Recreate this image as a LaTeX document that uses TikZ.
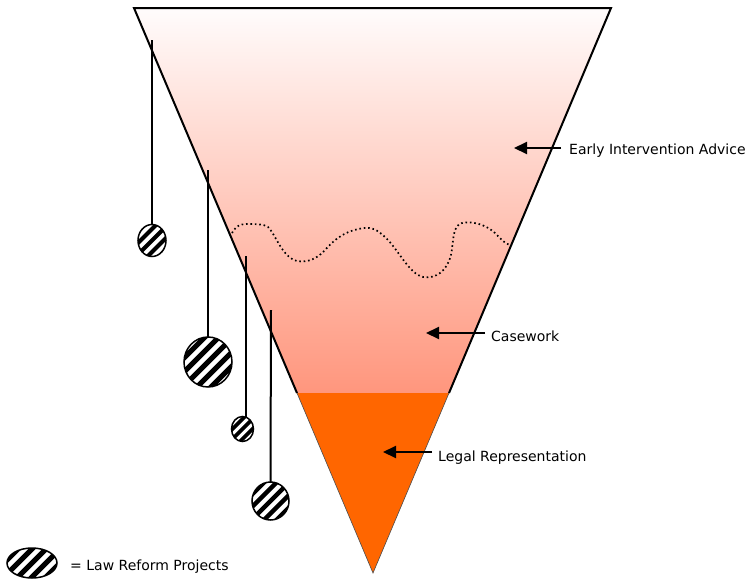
\documentclass[tikz,border=0pt]{standalone}
\usepackage{fontspec}
\setmainfont{DejaVu Sans}
\usetikzlibrary{arrows.meta}
\definecolor{funneltop}{RGB}{255,252,252}
\definecolor{funnelmid}{RGB}{255,220,213}
\definecolor{funnelbot}{RGB}{255,150,125}
\definecolor{legalorange}{RGB}{255,102,0}
\tikzset{
  edge/.style={line width=2pt, line join=miter},
  cord/.style={line width=2pt},
  lbl/.style={anchor=west, inner sep=0pt, font=\fontsize{14}{16}\selectfont},
  pointer/.style={line width=2pt, -{Triangle[length=13pt,width=12pt]}},
  bob/.style={line width=1.5pt},
}
\newcommand{\hatchedbob}[6]{% name, x, y, rx, ry, spacing
  \begin{scope}
    \clip (#2,#3) ellipse [x radius=#4, y radius=#5];
    \fill[white] (#2,#3) ellipse [x radius=#4, y radius=#5];
    \foreach \k in {-6,...,6}{
      \draw[line width={0.36*#6pt}] ({#2-40+\k*#6},{#3+40}) -- ({#2+40+\k*#6},{#3-40});
    }
  \end{scope}
  \draw[bob] (#2,#3) ellipse [x radius=#4, y radius=#5];
  \coordinate (#1) at (#2,{#3-#5});
}
\begin{document}
\begin{tikzpicture}[x=1pt,y=-1pt]
\useasboundingbox (0,0) rectangle (748,579);
% funnel corners
\coordinate (tl) at (134,8);
\coordinate (tr) at (611,8);
\coordinate (ap) at (373,573);
\coordinate (ol) at (297,393);
\coordinate (or) at (449,393);
% gradient upper part
\shade[top color=funneltop, middle color=funnelmid, bottom color=funnelbot] (tl) -- (tr) -- (or) -- (ol) -- cycle;
% orange bottom part
\fill[legalorange] (ol) -- (or) -- (ap) -- cycle;
\draw[line width=0.6pt, black!70] (or) -- (ap) -- (ol);
\draw[edge] (ol) -- (tl) -- (tr) -- (or);
% dotted boundary
\draw[line width=1.7pt, dash pattern=on 1.6pt off 2.8pt]
  (232,233) .. controls (236,226) and (240,224) .. (247,224)
  .. controls (255,224) and (264,224) .. (268,227)
  .. controls (276,235) and (282,257) .. (297,261)
  .. controls (308,263) and (318,258) .. (325,250)
  .. controls (334,240) and (345,230) .. (365,228)
  .. controls (374,227) and (380,232) .. (388,240)
  .. controls (400,253) and (410,274) .. (423,277)
  .. controls (436,279) and (447,271) .. (451,255)
  .. controls (454,240) and (452,226) .. (462,223)
  .. controls (472,221) and (485,224) .. (495,233)
  .. controls (501,239) and (505,244) .. (510,245);
% pendulums
\hatchedbob{b1}{152}{240.5}{14}{16}{11.5}
\hatchedbob{b2}{208}{362}{24}{25}{14}
\hatchedbob{b3}{242.5}{429}{11}{12.5}{10}
\hatchedbob{b4}{270.5}{501}{18.5}{19}{12.5}
\coordinate (s1) at (152,40);
\coordinate (s2) at (208,170);
\coordinate (s3) at (246,256);
\coordinate (s4) at (271,310);
\coordinate (b3top) at (246,417);
\draw[cord] (s1) -- (b1);
\draw[cord] (s2) -- (b2);
\draw[cord] (s3) -- (b3top);
\draw[cord] (s4) -- (b4);
% labels and pointers
\node[lbl] (early) at (569,151) {Early Intervention Advice};
\node[lbl] (case) at (491,336) {Casework};
\node[lbl] (legal) at (438,458) {Legal Representation};
\coordinate (ae) at (561,148);
\coordinate (pe) at (514,148);
\coordinate (ac) at (485,333);
\coordinate (pc) at (426,333);
\coordinate (al) at (432,452);
\coordinate (pl) at (383,452);
\draw[pointer] (ae) -- (pe);
\draw[pointer] (ac) -- (pc);
\draw[pointer] (al) -- (pl);
% legend
\hatchedbob{lg}{32}{563}{25}{15}{14}
\node[lbl] (legend) at (70,567) {= Law Reform Projects};
\end{tikzpicture}
\end{document}
